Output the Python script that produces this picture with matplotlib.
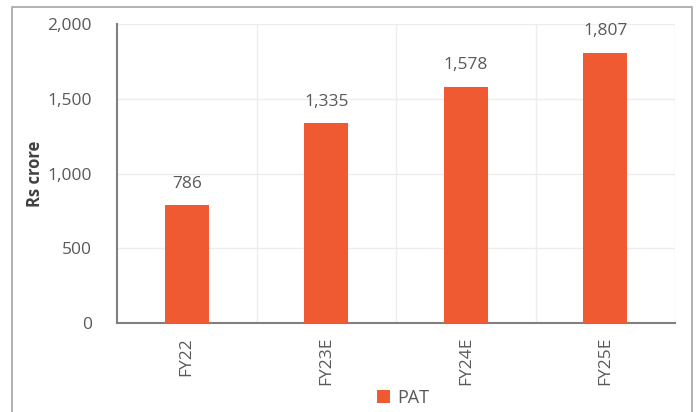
import matplotlib
matplotlib.use("Agg")
import matplotlib.pyplot as plt
from matplotlib.patches import Rectangle
from matplotlib.ticker import FuncFormatter, MultipleLocator

categories = ["FY22", "FY23E", "FY24E", "FY25E"]
pat = [786, 1335, 1578, 1807]
series_name = "PAT"
y_label = "Rs crore"

W, H = 696, 412
fig = plt.figure(figsize=(W / 100, H / 100), dpi=100)
plt.rcParams['font.family'] = ['Open Sans', 'DejaVu Sans']

# outer chart border
fig.patches.append(Rectangle((12 / W, -0.1), (692 - 12) / W, 1.1 - 7 / H,
                             transform=fig.transFigure, fill=False,
                             edgecolor="#A6A6A6", linewidth=1.2))

left, right, top, bottom = 117, 675, 24, 323
ax = fig.add_axes([left / W, 1 - bottom / H, (right - left) / W, (bottom - top) / H])

x = range(len(categories))
bars = ax.bar(x, pat, width=0.315, color="#F05A32", label=series_name, zorder=3)
ax.set_xlim(-0.5, len(categories) - 0.5)
ax.set_ylim(0, 2000)
ax.yaxis.set_major_locator(MultipleLocator(500))
ax.yaxis.set_major_formatter(FuncFormatter(lambda v, p: f"{int(v):,}"))

# gridlines: horizontal at ticks, vertical at category boundaries
for yv in [500, 1000, 1500, 2000]:
    ax.axhline(yv, color="#EDEDED", linewidth=1, zorder=1)
for xv in [0.5, 1.5, 2.5, 3.5]:
    ax.axvline(xv, color="#EDEDED", linewidth=1, zorder=1)

ax.set_xticks(list(x))
ax.set_xticklabels(categories, rotation=90, fontsize=12.5, color="#595959")
ax.tick_params(axis="y", labelsize=12.5, colors="#595959", length=0, pad=18)
ax.tick_params(axis="x", length=0, pad=10)

for s in ["top", "right"]:
    ax.spines[s].set_visible(False)
for s in ["left", "bottom"]:
    ax.spines[s].set_color("#808080")
    ax.spines[s].set_linewidth(1.5)

for xi, v in zip(x, pat):
    ax.annotate(f"{v:,}", (xi, v), xytext=(0, 10), textcoords="offset points",
                ha="center", va="bottom", fontsize=12.5, color="#595959")

fig.text(35 / W, 1 - 174 / H, y_label, rotation=90, ha="center", va="center",
         fontsize=12, fontweight="bold", color="#404040")

leg = fig.legend(handles=[bars], labels=[series_name], loc="center",
                 bbox_to_anchor=(403 / W, 1 - 398 / H), frameon=False,
                 fontsize=13, handlelength=0.7, handleheight=0.7,
                 handletextpad=0.4, labelcolor="#595959")

fig.savefig("out.png", dpi=100)
